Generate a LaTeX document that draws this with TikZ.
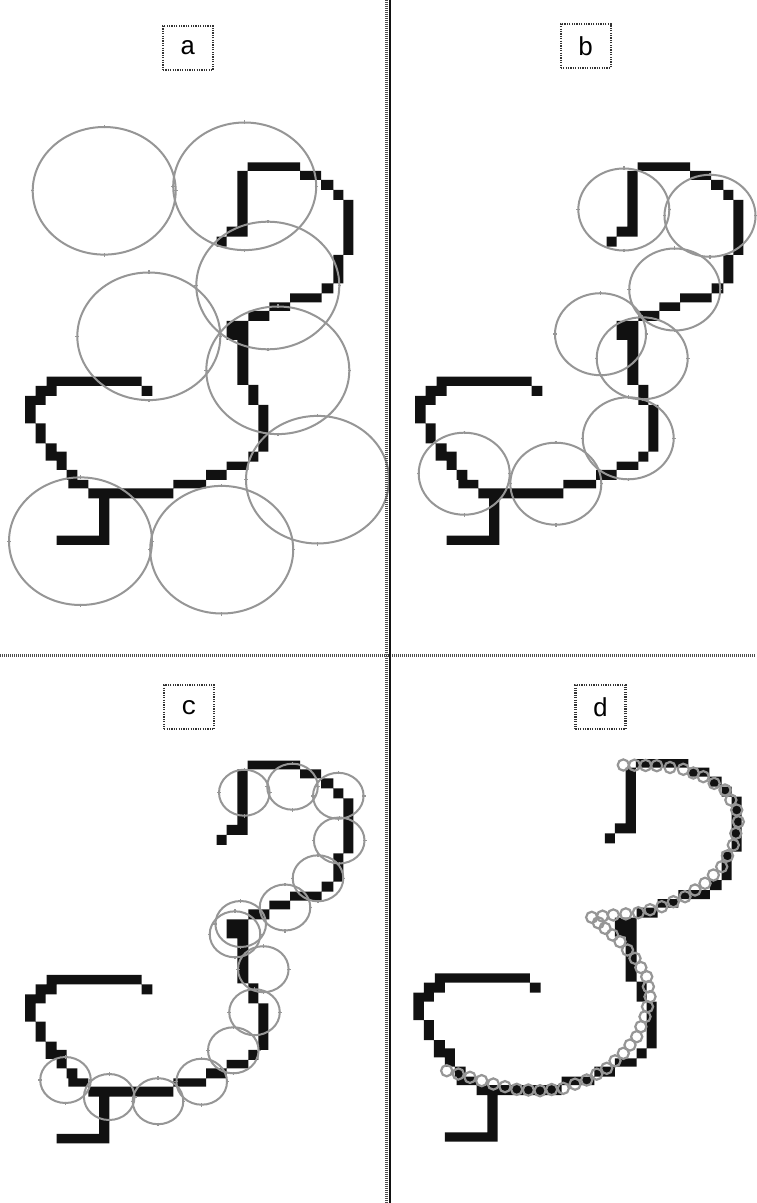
\documentclass[tikz,border=0pt]{standalone}
\usepackage{fontspec}
\setmonofont{Liberation Mono}
\usetikzlibrary{calc}
\definecolor{ringgray}{RGB}{150,150,150}
\definecolor{inkblack}{RGB}{17,17,17}
\newcommand{\hookshape}{%
  \fill[inkblack] (743,187) rectangle (900,213)
    (712,213) rectangle (743,380)
    (680,380) rectangle (743,410)
    (650,410) rectangle (680,440)
    (900,213) rectangle (963,240)
    (963,240) rectangle (1000,270)
    (1000,270) rectangle (1030,300)
    (1030,300) rectangle (1060,465)
    (1000,465) rectangle (1030,550)
    (965,550) rectangle (1000,580)
    (870,580) rectangle (965,607)
    (808,607) rectangle (870,633)
    (745,633) rectangle (808,663)
    (680,663) rectangle (745,690)
    (680,690) rectangle (712,720)
    (712,690) rectangle (745,855)
    (745,855) rectangle (775,915)
    (775,915) rectangle (805,1055)
    (745,1055) rectangle (775,1085)
    (680,1085) rectangle (745,1110)
    (618,1110) rectangle (680,1140)
    (520,1140) rectangle (618,1165)
    (265,1165) rectangle (520,1195)
    (297,1195) rectangle (328,1307)
    (170,1307) rectangle (328,1335)
    (140,830) rectangle (425,858)
    (425,858) rectangle (457,888)
    (107,858) rectangle (170,888)
    (75,888) rectangle (137,915)
    (75,915) rectangle (107,970)
    (107,970) rectangle (137,1030)
    (137,1030) rectangle (170,1082)
    (170,1055) rectangle (200,1110)
    (200,1110) rectangle (232,1140)
    (205,1140) rectangle (265,1165);%
}
% ring with small ticks at its four extreme points: #1 centre x, #2 centre y, #3 x radius, #4 y radius
\newcommand{\tickring}[4]{%
  \draw[ring] (#1,#2) ellipse [x radius=#3, y radius=#4];
  \draw[ringgray, line width=0.7pt]
    (#1+#3-1.5,#2) -- (#1+#3+2,#2)
    (#1-#3+1.5,#2) -- (#1-#3-2,#2)
    (#1,#2+#4-1.5) -- (#1,#2+#4+2)
    (#1,#2-#4+1.5) -- (#1,#2-#4-2);%
}
\tikzset{
  ring/.style={draw=ringgray, line width=1pt},
  bead/.style={draw=ringgray, line width=1.1pt},
  labelbox/.style={draw=black!80, dash pattern=on 0.6pt off 0.6pt, line width=1.2pt,
    minimum width=25pt, minimum height=22pt, inner sep=0pt,
    font=\ttfamily\fontsize{13}{13}\selectfont},
}
\begin{document}
\begin{tikzpicture}[x=0.5pt, y=-0.5pt]
\useasboundingbox (0,0) rectangle (756,1203);
\fill[white] (0,0) rectangle (756,1203);

% shapes
\begin{scope}[shift={(0,100)}, scale=0.33333] \hookshape \end{scope}
\begin{scope}[shift={(390,100)}, scale=0.33333] \hookshape \end{scope}
\begin{scope}[shift={(0,698.3)}, scale=0.33333] \hookshape \end{scope}
\begin{scope}[shift={(388.3,696.7)}, scale=0.33333] \hookshape \end{scope}

% panel a circles
\foreach \x/\y in {104.2/190.8, 244.7/186.3, 267.8/285.5, 148.8/336.3,
  277.8/370.3, 317.5/479.7, 80.5/541.2, 221.7/549.7}
  {\tickring{\x}{\y}{71.5}{63.8}}

% panel b circles
\foreach \x/\y in {623.8/209.5, 710/215.8, 674.7/289.5, 600.5/334.2,
  642.2/358.3, 628.2/438.3, 464.2/473.7, 555.8/483.7}
  {\tickring{\x}{\y}{45.5}{41}}

% panel c circles
\foreach \x/\y in {244.3/792.7, 292.5/786.7, 338.3/795.8, 339.2/840.5,
  318/878.3, 285/907.5, 240.7/924, 235/934.3, 263.3/969.2,
  254.5/1012.2, 233.3/1050.3, 201.7/1081.7, 158/1101.2,
  109.2/1097, 65.5/1080}
  {\tickring{\x}{\y}{25.3}{23}}

% panel d beads
\coordinate (P0) at (591.7,917.3);
\coordinate (P1) at (613.3,915);
\coordinate (P2) at (638.3,912.7);
\coordinate (P3) at (661.7,906.7);
\coordinate (P4) at (685,896.7);
\coordinate (P5) at (705,883.3);
\coordinate (P6) at (721.7,866.7);
\coordinate (P7) at (733.3,845);
\coordinate (P8) at (738.3,821.7);
\coordinate (P9) at (736.7,810);
\coordinate (P10) at (725,790);
\coordinate (P11) at (703.3,776.7);
\coordinate (P12) at (683.3,769.3);
\coordinate (P13) at (656.7,765.7);
\coordinate (P14) at (623.3,765);
\coordinate (Q1) at (605,928.3);
\coordinate (Q2) at (620,941.7);
\coordinate (Q3) at (635,958.3);
\coordinate (Q4) at (646.7,976.7);
\coordinate (Q5) at (650,996.7);
\coordinate (Q6) at (645,1016.7);
\coordinate (Q7) at (636.7,1036.7);
\coordinate (Q8) at (623.3,1053.3);
\coordinate (Q9) at (606.7,1068.3);
\coordinate (Q10) at (586.7,1080);
\coordinate (Q11) at (563.3,1088.3);
\coordinate (Q12) at (540,1090.7);
\coordinate (Q13) at (516.7,1089.3);
\coordinate (Q14) at (493.3,1084);
\coordinate (Q15) at (470,1077.3);
\coordinate (Q16) at (446.7,1070.7);
\foreach \c in {P0,P1,P2,P3,P4,P5,P6,P7,P8,P9,P10,P11,P12,P13,P14,
  Q1,Q2,Q3,Q4,Q5,Q6,Q7,Q8,Q9,Q10,Q11,Q12,Q13,Q14,Q15,Q16}
  \draw[bead] (\c) circle (2.8pt);
\foreach \a/\b in {P0/P1,P1/P2,P2/P3,P3/P4,P4/P5,P5/P6,P6/P7,P7/P8,
  P9/P10,P10/P11,P11/P12,P12/P13,
  P0/Q1,Q1/Q2,Q2/Q3,Q3/Q4,Q4/Q5,Q5/Q6,Q6/Q7,Q7/Q8,Q8/Q9,Q9/Q10,
  Q10/Q11,Q11/Q12,Q12/Q13,Q13/Q14,Q14/Q15,Q15/Q16}
  \draw[bead] ($(\a)!0.5!(\b)$) circle (2.8pt);
\draw[bead] ($(P13)!0.333!(P14)$) circle (2.8pt);
\draw[bead] ($(P13)!0.667!(P14)$) circle (2.8pt);

% dividers
\draw[black!70, line width=1.5pt, dash pattern=on 0.5pt off 0.5pt] (0,655.5) -- (756,655.5);
\draw[black!70, line width=1.5pt, dash pattern=on 0.5pt off 0.5pt] (386.5,0) -- (386.5,1203);
\draw[inkblack, line width=1.3pt] (389.8,0) -- (389.8,1203);

% labels
\node[labelbox] (la) at (188,48) {a};
\node[labelbox] (lb) at (585.7,45.8) {b};
\node[labelbox] (lc) at (189.2,707.2) {c};
\node[labelbox] (ld) at (600.3,707.2) {d};
\end{tikzpicture}
\end{document}
